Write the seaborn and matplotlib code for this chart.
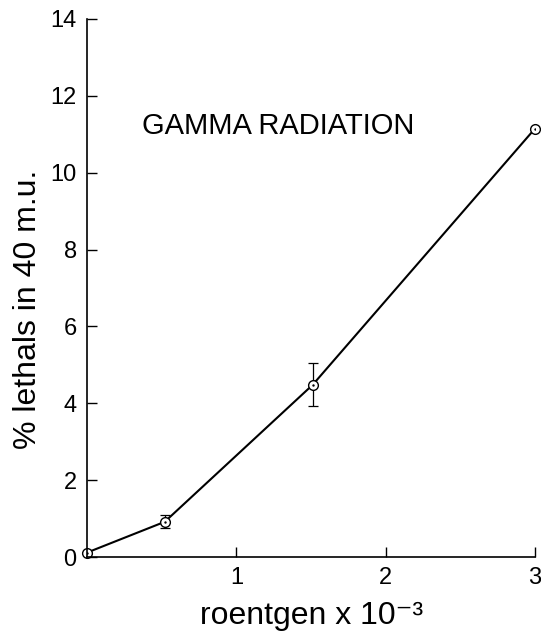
import matplotlib
matplotlib.use("Agg")
import matplotlib.pyplot as plt
import numpy as np
import pandas as pd
import seaborn as sns

# data
dose = [0.0, 0.52, 1.51, 3.0]            # roentgen x 10^-3
lethals = [0.12, 0.92, 4.48, 11.15]      # % lethals in 40 m.u.
err = [0.0, 0.17, 0.56, 0.0]             # half-length of error bars

x_ticks = [1, 2, 3]
y_ticks = [0, 2, 4, 6, 8, 10, 12, 14]

sns.set_theme(style="white")
plt.rcParams['font.family'] = ['Liberation Sans', 'DejaVu Sans']

df = pd.DataFrame({"dose": dose, "lethals": lethals, "err": err})

fig = plt.figure(figsize=(5.41, 6.31), dpi=100)
ax = fig.add_axes([0.161, 0.117, 0.828, 0.853])

sns.lineplot(data=df, x="dose", y="lethals", ax=ax, color="black",
             linewidth=1.5, marker="o", markersize=7, markerfacecolor="white",
             markeredgecolor="black", markeredgewidth=1.0, clip_on=False)
# little dot in the middle of each circle
sns.scatterplot(data=df, x="dose", y="lethals", ax=ax, color="black",
                s=3, linewidth=0, zorder=5)

has_err = df[df["err"] > 0]
ax.errorbar(has_err["dose"], has_err["lethals"], yerr=has_err["err"],
            fmt="none", ecolor="black", elinewidth=0.9, capsize=3.5,
            capthick=0.9, zorder=1)

ax.set_xlim(0, 3)
ax.set_ylim(0, 14)
ax.set_xticks(x_ticks)
ax.set_yticks(y_ticks)
ax.tick_params(direction="in", length=7, width=1, labelsize=17,
               color="black", labelcolor="black", bottom=True, left=True)
ax.tick_params(axis="y", pad=7.5)
ax.tick_params(axis="x", pad=7)

for side in ["top", "right"]:
    ax.spines[side].set_visible(False)
for side in ["left", "bottom"]:
    ax.spines[side].set_color("black")
    ax.spines[side].set_linewidth(1.2)

ax.set_xlabel("roentgen x 10⁻³", fontsize=23, color="black")
ax.set_ylabel("% lethals in 40 m.u.", fontsize=23, color="black")
ax.xaxis.set_label_coords(0.5, -0.082)
ax.yaxis.set_label_coords(-0.098, 0.46)

ax.text(0.367, 11.0, "GAMMA RADIATION", fontsize=21, color="black",
        va="baseline", ha="left")

fig.savefig("out.png", dpi=100)
